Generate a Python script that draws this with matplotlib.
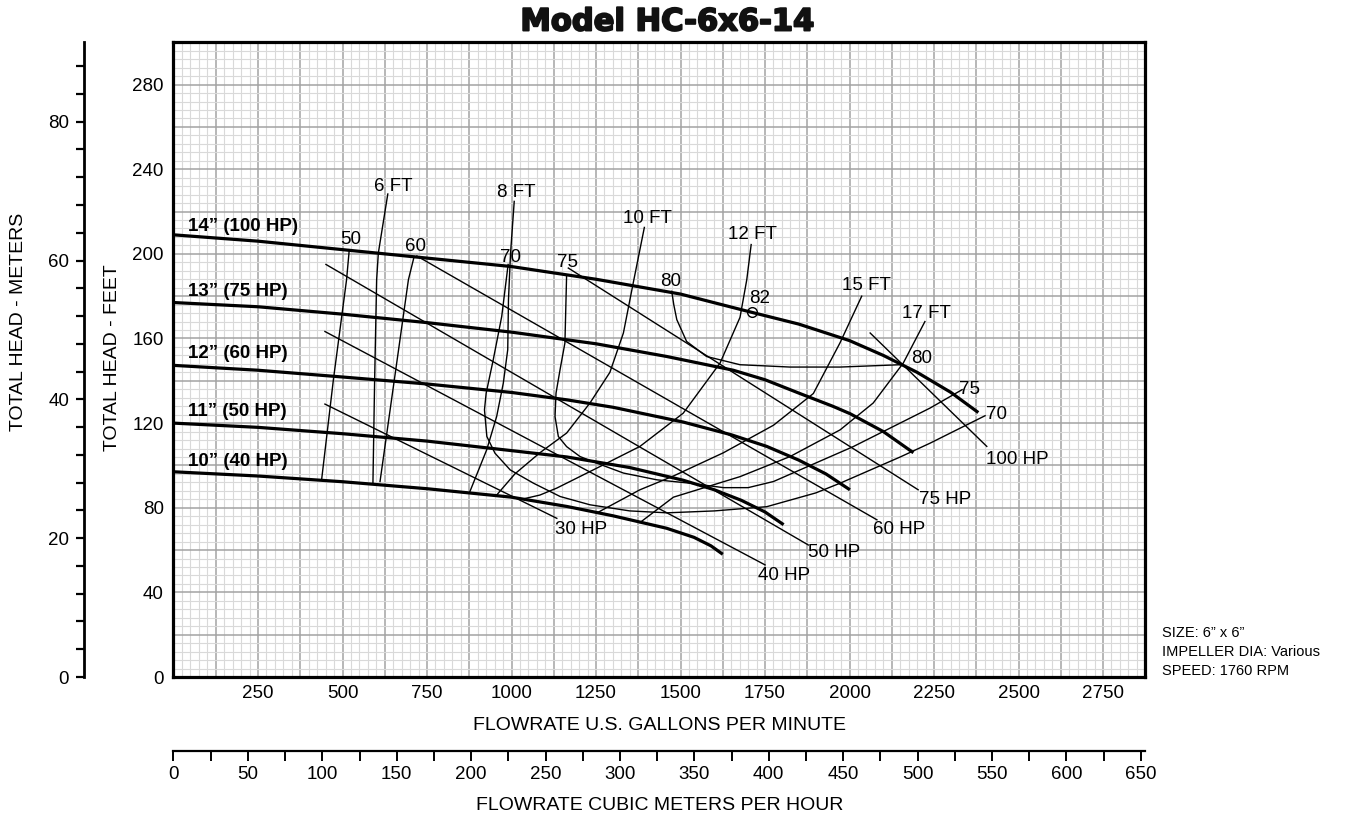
import numpy as np
import matplotlib
matplotlib.use("Agg")
import matplotlib.pyplot as plt
from matplotlib.ticker import MultipleLocator, FuncFormatter
import matplotlib.patheffects as pe

plt.rcParams['font.family'] = ['Liberation Sans', 'DejaVu Sans']

# ---------------- data (flow in US gpm, head in feet) ----------------
imp_labels = ['14\u201d (100 HP)', '13\u201d (75 HP)', '12\u201d (60 HP)', '11\u201d (50 HP)', '10\u201d (40 HP)']
imp14_q = [0, 250, 500, 750, 1000, 1250, 1500, 1700, 1850, 2000, 2100, 2200, 2300, 2381]
imp14_h = [209, 206, 202, 198, 194, 188, 181, 172.8, 166.8, 159, 152, 144, 134.5, 125]
imp13_q = [0, 250, 500, 750, 1000, 1250, 1459, 1656, 1750, 1853, 1950, 2001, 2100, 2189]
imp13_h = [177, 175, 171.5, 167.5, 163, 157.5, 151.5, 145, 140.5, 134, 128, 124.5, 116, 106]
imp12_q = [0, 250, 500, 750, 1000, 1164, 1300, 1508, 1650, 1755, 1850, 1930, 2001]
imp12_h = [147.3, 145, 141.8, 138.5, 134.5, 131, 127.5, 120.5, 114.5, 109, 102.5, 96, 88.5]
imp11_q = [0, 250, 500, 750, 1000, 1164, 1350, 1508, 1600, 1680, 1750, 1805]
imp11_h = [120, 118, 115, 111.5, 107, 104, 99, 93, 88.5, 83.5, 78, 72]
imp10_q = [0, 250, 500, 750, 1000, 1164, 1300, 1459, 1540, 1590, 1625]
imp10_h = [97, 95, 92.3, 89, 85, 80.6, 76.2, 70.3, 66, 62, 58]
imp_label_h = [213, 182.3, 152.8, 125.4, 101.8]

# efficiency contours (%)
eff50_q = [438, 473, 512, 520]
eff50_h = [93, 140.5, 187.8, 202]
eff60_q = [611, 695, 712]
eff60_h = [92.4, 187.8, 198.8]
eff70_q = [990, 971, 946, 925, 920, 927, 951, 996, 1065, 1144, 1232, 1350, 1460,
           1600, 1755, 1900, 1972, 2150, 2238, 2401]
eff70_h = [195, 170.4, 150, 134.2, 126.3, 113.7, 105.8, 97.9, 91.6, 85.3, 81.4, 78.5, 77.6,
           78.5, 80.5, 87, 91.6, 104, 110.5, 123.5]
eff75_q = [1163, 1158, 1143.5, 1131.7, 1128.7, 1138.5, 1163, 1202.7, 1252, 1331, 1430,
           1528, 1627, 1700, 1775, 2011, 2238, 2333]
eff75_h = [190, 157.9, 145.2, 134.2, 123.1, 113.7, 108.9, 104.2, 101.1, 96.4, 93.2,
           91.6, 89.5, 89.5, 92.4, 108.9, 127.1, 135.8]
eff80_q = [1474, 1480, 1489, 1518, 1577, 1676, 1824, 1972, 2150]
eff80_h = [182.3, 176, 168.9, 158.6, 151.5, 147.6, 146.5, 146.5, 147.6]
eff82_q = [1711]
eff82_h = [172.5]
eff_text = ['50', '60', '70', '75', '80', '82', '80', '75', '70']
eff_text_q = [525, 717, 998, 1166, 1472, 1735, 2212, 2354, 2436]
eff_text_h = [206.7, 203.5, 198.5, 195.7, 187, 179.1, 150.4, 136.1, 123.9]

# NPSH required curves
npsh6_q = [590, 595, 601, 606, 634]
npsh6_h = [91.5, 140, 187.8, 200.4, 228.3]
npsh8_q = [877, 926.6, 956, 975.7, 988.8, 991, 997, 1008]
npsh8_h = [87.7, 107.4, 123.1, 138.9, 154.7, 178.3, 200, 224.8]
npsh10_q = [956, 1010, 1084, 1163, 1232, 1291, 1331, 1360, 1393]
npsh10_h = [86, 96, 106, 115.3, 129.5, 144, 162.6, 186.2, 212.5]
npsh12_q = [1030, 1084, 1134, 1262, 1380, 1508, 1617, 1676, 1696, 1709]
npsh12_h = [84, 86, 89.3, 99.5, 109, 124.7, 148.4, 170, 187.8, 204.4]
npsh15_q = [1252, 1380, 1479, 1627, 1775, 1893, 1972, 2036]
npsh15_h = [77.5, 88.5, 95, 106, 119, 134, 158, 180]
npsh17_q = [1380, 1479, 1676, 1824, 1972, 2070, 2159, 2223]
npsh17_h = [73, 85, 94.7, 104.2, 116.8, 129.5, 148.4, 168]
npsh_text = ['6 FT', '8 FT', '10 FT', '12 FT', '15 FT', '17 FT']
npsh_text_q = [650, 1013, 1402, 1714, 2051, 2228]
npsh_text_h = [231.9, 228.8, 216.5, 209.1, 185, 171.7]

# brake horsepower lines
hp30_q = [448, 1134]
hp30_h = [129, 75]
hp40_q = [448, 1750]
hp40_h = [163.3, 53]
hp50_q = [451, 1878]
hp50_h = [195, 62.4]
hp60_q = [720, 2081]
hp60_h = [199, 74.3]
hp75_q = [1168, 2203]
hp75_h = [193.3, 88.5]
hp100_q = [2061, 2406]
hp100_h = [162.6, 109]
hp_text = ['30 HP', '40 HP', '50 HP', '60 HP', '75 HP', '100 HP']
hp_text_q = [1206, 1805, 1953, 2148, 2283, 2495]
hp_text_h = [69.5, 48.2, 58.8, 69.5, 83.7, 103]

info_lines = ['SIZE: 6\u201d x 6\u201d', 'IMPELLER DIA: Various', 'SPEED: 1760 RPM']

GPM_PER_M3H = 4.40287
FT_PER_M = 3.28084
XMAX, YMAX = 2875, 300

# ---------------- figure ----------------
W, H, DPI = 1348, 819, 100
fig = plt.figure(figsize=(W / DPI, H / DPI), dpi=DPI)


def fx(px):
    return px / W


def fy(py):
    return 1 - py / H


L, R, T, B = 173.5, 1145.3, 42.3, 677.0
ax = fig.add_axes([fx(L), fy(B), (R - L) / W, (B - T) / H])
ax.set_xlim(0, XMAX)
ax.set_ylim(0, YMAX)
ax.xaxis.set_major_locator(MultipleLocator(125))
ax.xaxis.set_minor_locator(MultipleLocator(25))
ax.yaxis.set_major_locator(MultipleLocator(20))
ax.yaxis.set_minor_locator(MultipleLocator(4))
ax.xaxis.set_major_formatter(FuncFormatter(
    lambda v, p: '%d' % v if (int(round(v)) % 250 == 0 and v > 0) else ''))
ax.yaxis.set_major_formatter(FuncFormatter(
    lambda v, p: '%d' % v if int(round(v)) % 40 == 0 else ''))
ax.tick_params(which='both', length=0)
ax.tick_params(axis='x', pad=6, labelsize=13.5)
ax.tick_params(axis='y', pad=7, labelsize=13.5)
ax.grid(which='minor', color='#d9d9d9', lw=0.8, zorder=0)
ax.grid(which='major', color='#a3a3a3', lw=1.1, zorder=0)
ax.set_axisbelow(True)
for s in ax.spines.values():
    s.set_linewidth(2.3)
    s.set_zorder(10)

# impeller curves
imp_q = [imp14_q, imp13_q, imp12_q, imp11_q, imp10_q]
imp_h = [imp14_h, imp13_h, imp12_h, imp11_h, imp10_h]
for q, h in zip(imp_q, imp_h):
    ax.plot(q, h, color='black', lw=2.3, solid_capstyle='butt',
            solid_joinstyle='round', zorder=5)
for lab, hh in zip(imp_labels, imp_label_h):
    ax.text(43, hh, lab, fontsize=13.5, fontweight='bold', ha='left', va='center', zorder=6)

thin = dict(color='black', lw=1.0, zorder=4, solid_joinstyle='round')
for q, h in [(eff50_q, eff50_h), (eff60_q, eff60_h), (eff70_q, eff70_h),
             (eff75_q, eff75_h), (eff80_q, eff80_h)]:
    ax.plot(q, h, **thin)
ax.plot(eff82_q, eff82_h, 'o', mfc='none', mec='black', ms=7, mew=1.0, zorder=6)
for t, q, h in zip(eff_text, eff_text_q, eff_text_h):
    ax.text(q, h, t, fontsize=13.5, ha='center', va='center', zorder=6)

for q, h in [(npsh6_q, npsh6_h), (npsh8_q, npsh8_h), (npsh10_q, npsh10_h),
             (npsh12_q, npsh12_h), (npsh15_q, npsh15_h), (npsh17_q, npsh17_h)]:
    ax.plot(q, h, **thin)
for t, q, h in zip(npsh_text, npsh_text_q, npsh_text_h):
    ax.text(q, h, t, fontsize=13.5, ha='center', va='center', zorder=6)

for q, h in [(hp30_q, hp30_h), (hp40_q, hp40_h), (hp50_q, hp50_h),
             (hp60_q, hp60_h), (hp75_q, hp75_h), (hp100_q, hp100_h)]:
    ax.plot(q, h, **thin)
for t, q, h in zip(hp_text, hp_text_q, hp_text_h):
    ax.text(q, h, t, fontsize=13.5, ha='center', va='center', zorder=6)

# metric head axis (left)
axm = fig.add_axes([fx(84.3), fy(B), 0.0001, (B - T) / H])
axm.set_ylim(0, YMAX / FT_PER_M)
axm.set_xticks([])
for k in ['top', 'right', 'bottom']:
    axm.spines[k].set_visible(False)
axm.spines['left'].set_linewidth(2.0)
axm.patch.set_alpha(0)
axm.yaxis.set_major_locator(MultipleLocator(4))
axm.yaxis.set_major_formatter(FuncFormatter(
    lambda v, p: '%d' % v if int(round(v)) % 20 == 0 else ''))
axm.tick_params(axis='y', length=6, width=1.6, pad=5, labelsize=13.5, direction='out')

# metric flow axis (bottom)
axf = fig.add_axes([fx(L), fy(751), (R - L) / W, 0.0001])
axf.set_xlim(0, XMAX / GPM_PER_M3H)
axf.set_yticks([])
for k in ['top', 'right', 'left']:
    axf.spines[k].set_visible(False)
axf.spines['bottom'].set_linewidth(1.6)
axf.patch.set_alpha(0)
axf.xaxis.set_major_locator(MultipleLocator(50))
axf.xaxis.set_minor_locator(MultipleLocator(25))
axf.tick_params(axis='x', which='both', length=7, width=1.4, direction='out')
axf.tick_params(axis='x', which='major', pad=4, labelsize=13.5)

# labels
fig.text(fx((L + R) / 2), fy(726), 'FLOWRATE U.S. GALLONS PER MINUTE', fontsize=14,
         ha='center', va='center')
fig.text(fx((L + R) / 2), fy(805), 'FLOWRATE CUBIC METERS PER HOUR', fontsize=14,
         ha='center', va='center')
fig.text(fx(113), fy(358), 'TOTAL HEAD - FEET', fontsize=14, rotation=90,
         ha='center', va='center')
fig.text(fx(19), fy(322), 'TOTAL HEAD - METERS', fontsize=14, rotation=90,
         ha='center', va='center')
fig.text(fx(667), fy(22), 'Model HC-6x6-14', fontsize=22, fontweight='bold',
         family='DejaVu Sans', ha='center', va='center', color='#111111',
         path_effects=[pe.withStroke(linewidth=1.4, foreground='#111111')])
for i, line in enumerate(info_lines):
    fig.text(fx(1161.5), fy(633 + 19 * i), line, fontsize=10.5, ha='left', va='center')

fig.savefig('out.png', dpi=DPI)
